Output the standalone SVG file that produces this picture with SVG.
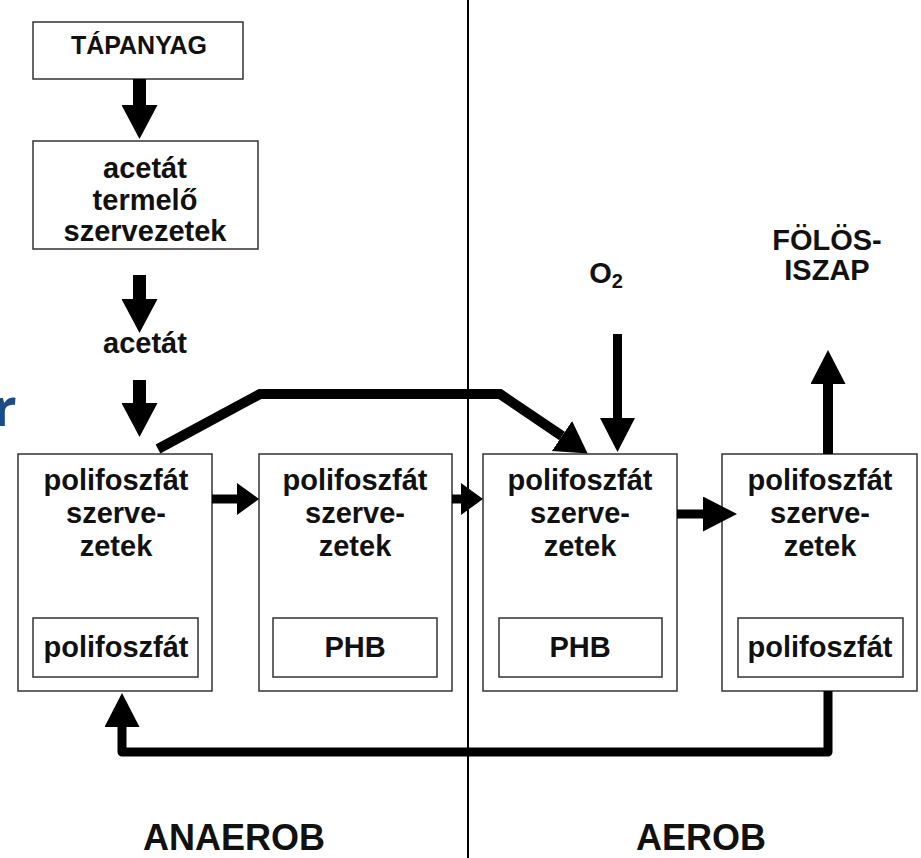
<svg xmlns="http://www.w3.org/2000/svg" width="921" height="858" viewBox="0 0 921 858">
<style>
.box{fill:#fff;stroke:#333;stroke-width:1.5}
.t{font-family:"Liberation Sans",Arial,sans-serif;font-weight:bold;fill:#111;text-anchor:middle}
.n{font-size:29px}
.s{font-size:25px}
.big{font-size:36px}
.shaft{fill:none;stroke:#000}
</style>
<defs>
<marker id="hBig" markerUnits="userSpaceOnUse" markerWidth="36" markerHeight="36" refX="0" refY="18" orient="auto" viewBox="0 0 34 36"><path d="M0,0 L34,18 L0,36 z" fill="#000"/></marker>
<marker id="hMed" markerUnits="userSpaceOnUse" markerWidth="35" markerHeight="35" refX="0" refY="17.5" orient="auto" viewBox="0 0 34 35"><path d="M0,0 L34,17.5 L0,35 z" fill="#000"/></marker>
<marker id="hShort" markerUnits="userSpaceOnUse" markerWidth="22" markerHeight="32" refX="0" refY="16" orient="auto" viewBox="0 0 22 32"><path d="M0,0 L22,16 L0,32 z" fill="#000"/></marker>
<marker id="hDiag" markerUnits="userSpaceOnUse" markerWidth="31" markerHeight="36" refX="0" refY="18" orient="auto" viewBox="0 0 31 36"><path d="M0,0 L31,18 L0,36 z" fill="#000"/></marker>
</defs>
<rect width="921" height="858" fill="#fff"/>
<text x="-7" y="426" font-family="'Open Sans',sans-serif" font-weight="bold" font-size="52" fill="#1b4c86">r</text>
<line x1="468" y1="0" x2="468" y2="858" stroke="#000" stroke-width="2"/>
<g id="tapanyag"><rect class="box" x="33" y="22" width="210" height="57"/><text class="t s" x="139" y="54">TÁPANYAG</text></g>
<g id="acetat-termelo"><rect class="box" x="33" y="141" width="225" height="108"/><text class="t n" x="145" y="178">acetát</text><text class="t n" x="145" y="210">termelő</text><text class="t n" x="145" y="241">szervezetek</text></g>
<g id="acetat"><text class="t n" x="145" y="353">acetát</text></g>
<g id="o2"><text class="t n" x="606" y="283">O<tspan font-size="20" dy="5">2</tspan></text></g>
<g id="folosiszap"><text class="t n" x="827" y="250">FÖLÖS-</text><text class="t n" x="827" y="280">ISZAP</text></g>
<g id="box1"><rect class="box" x="18" y="454" width="194" height="237"/><text class="t n" x="116" y="490">polifoszfát</text><text class="t n" x="116" y="523">szerve-</text><text class="t n" x="116" y="556">zetek</text><rect class="box" x="33" y="618" width="165" height="59"/><text class="t n" x="116" y="657">polifoszfát</text></g>
<g id="box2"><rect class="box" x="259" y="454" width="193" height="237"/><text class="t n" x="355" y="490">polifoszfát</text><text class="t n" x="355" y="523">szerve-</text><text class="t n" x="355" y="556">zetek</text><rect class="box" x="273" y="618" width="164" height="59"/><text class="t n" x="355" y="657">PHB</text></g>
<g id="box3"><rect class="box" x="483" y="454" width="194" height="237"/><text class="t n" x="580" y="490">polifoszfát</text><text class="t n" x="580" y="523">szerve-</text><text class="t n" x="580" y="556">zetek</text><rect class="box" x="499" y="618" width="163" height="59"/><text class="t n" x="580" y="657">PHB</text></g>
<g id="box4"><rect class="box" x="722" y="454" width="195" height="237"/><text class="t n" x="820" y="490">polifoszfát</text><text class="t n" x="820" y="523">szerve-</text><text class="t n" x="820" y="556">zetek</text><rect class="box" x="738" y="618" width="165" height="59"/><text class="t n" x="820" y="657">polifoszfát</text></g>
<g id="anaerob"><text class="t big" x="234" y="850">ANAEROB</text></g>
<g id="aerob"><text class="t big" x="701" y="850">AEROB</text></g>
<g id="connectors">
<line class="shaft" x1="139.5" y1="79" x2="139.5" y2="105" stroke-width="13" marker-end="url(#hBig)"/>
<line class="shaft" x1="139.5" y1="275" x2="139.5" y2="299" stroke-width="13" marker-end="url(#hBig)"/>
<line class="shaft" x1="139.5" y1="380" x2="139.5" y2="403" stroke-width="13" marker-end="url(#hBig)"/>
<polyline class="shaft" points="158,449 260,394 500,394 562,436" stroke-width="10" stroke-linejoin="miter" marker-end="url(#hDiag)"/>
<line class="shaft" x1="617.5" y1="334" x2="617.5" y2="418" stroke-width="9" marker-end="url(#hMed)"/>
<line class="shaft" x1="828" y1="454" x2="828" y2="384" stroke-width="10" marker-end="url(#hMed)"/>
<line class="shaft" x1="212" y1="499" x2="237" y2="499" stroke-width="9" marker-end="url(#hShort)"/>
<line class="shaft" x1="452" y1="499" x2="461" y2="499" stroke-width="9" marker-end="url(#hShort)"/>
<line class="shaft" x1="677" y1="514" x2="703" y2="514" stroke-width="9" marker-end="url(#hMed)"/>
<polyline class="shaft" points="828,691 828,752 122,752 122,727" stroke-width="9" stroke-linejoin="round" marker-end="url(#hMed)"/>
</g>
</svg>
